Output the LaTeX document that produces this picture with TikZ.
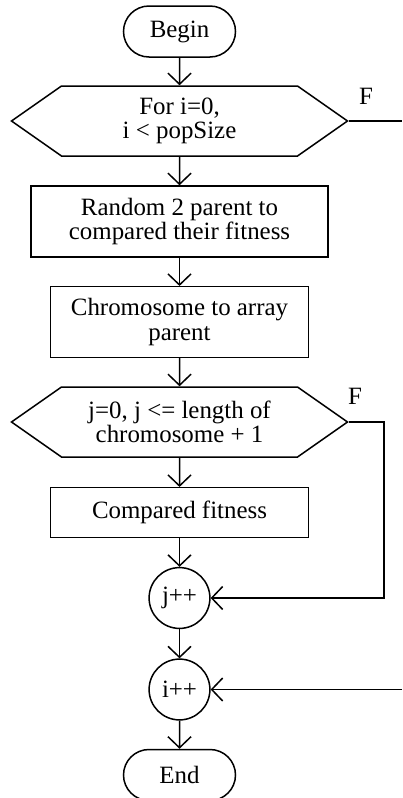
\documentclass[tikz,border=0pt]{standalone}
\usepackage{fontspec}
\setmainfont{Liberation Serif}
\usetikzlibrary{shapes.misc,shapes.symbols,arrows.meta}

\begin{document}
\begin{tikzpicture}[
    x=1pt, y=1pt,
    font=\fontsize{12.45}{12.2}\selectfont,
    line width=0.75pt,
    >={Straight Barb[length=5.5pt,width=11.5pt]},
    terminal/.style={draw, rounded rectangle, minimum width=56pt, minimum height=25.5pt, inner sep=0pt},
    process/.style={draw, rectangle, align=center, inner sep=0pt},
    decision/.style={draw, signal, signal to=east and west, signal pointer angle=70,
      minimum width=168pt, minimum height=35pt, align=center, inner sep=0pt},
    counter/.style={draw, circle, minimum size=30.4pt, inner sep=0pt}
  ]
  \useasboundingbox (0,0) rectangle (201,-399);

  % Main column of the flowchart
  \node [terminal] (begin) at (89.75,-15.75) {Begin};
  \node [decision] (fori) at (89.75,-60.5) {For i=0,\\i < popSize};
  \node [process, minimum width=148.5pt, minimum height=35.5pt] (rand) at (89.75,-110.75)
    {Random 2 parent to\\compared their fitness};
  \node [process, minimum width=129pt, minimum height=35.3pt] (chrom) at (89.75,-161)
    {Chromosome to array\\parent};
  \node [decision] (forj) at (89.75,-211) {j=0, j <= length of\\chromosome + 1};
  \node [process, minimum width=129pt, minimum height=24.8pt] (comp) at (89.75,-256.25)
    {Compared fitness};
  \node [counter] (jinc) at (89.75,-299) {j++};
  \node [counter] (iinc) at (89.75,-344.75) {i++};
  \node [terminal] (end) at (89.75,-387.5) {End};

  % Arrows down the column
  \foreach \a/\b in {begin/fori, fori/rand, rand/chrom, chrom/forj,
                     forj/comp, comp/jinc, jinc/iinc, iinc/end} {
    \draw [->] (\a) -- (\b);
  }

  % False branches
  \node (fi) at (183,-48) {F};
  \node (fj) at (177.5,-198.25) {F};
  \coordinate (iout) at (201,-60.5);
  \coordinate (iin) at (201,-344.75);
  \coordinate (jloop) at (192,-211);
  \draw (fori.east) -- (iout);
  \draw [->] (iin) -- (iinc.east);
  \draw [->] (forj.east) -- (jloop) |- (jinc.east);
\end{tikzpicture}
\end{document}
